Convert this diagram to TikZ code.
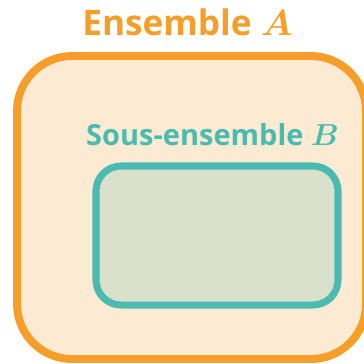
\documentclass[tikz,border=0pt]{standalone}
\usepackage{fontspec}
\usepackage{bm}
\setmainfont{Open Sans}
\definecolor{orangeA}{HTML}{F59E2A}
\definecolor{fillA}{HTML}{FDEAD3}
\definecolor{tealB}{HTML}{4ABBB0}
\definecolor{fillB}{HTML}{D9E0CB}
\begin{document}
\begin{tikzpicture}
                    \useasboundingbox (0,0) rectangle (7.28,-7.26);
                    \clip (0,0) rectangle (7.28,-7.26);

                    \draw[orangeA, fill=fillA, line width=4.5pt, rounded corners=1.1cm]
                        (0.34,-1.12) rectangle (7.32,-7.18);
                    \draw[tealB, fill=fillB, line width=4pt, rounded corners=0.5cm]
                        (1.92,-3.32) rectangle (6.76,-6.10);

                    \node[anchor=base, text=orangeA, font=\fontsize{20}{24}\selectfont\bfseries] (setA) at (3.75,-0.70) {Ensemble $\bm{A}$};
                    \node[anchor=base, text=tealB, font=\fontsize{16.5}{20}\selectfont\bfseries] (setB) at (4.25,-2.90) {Sous-ensemble $\bm{B}$};

                \end{tikzpicture}
\end{document}
